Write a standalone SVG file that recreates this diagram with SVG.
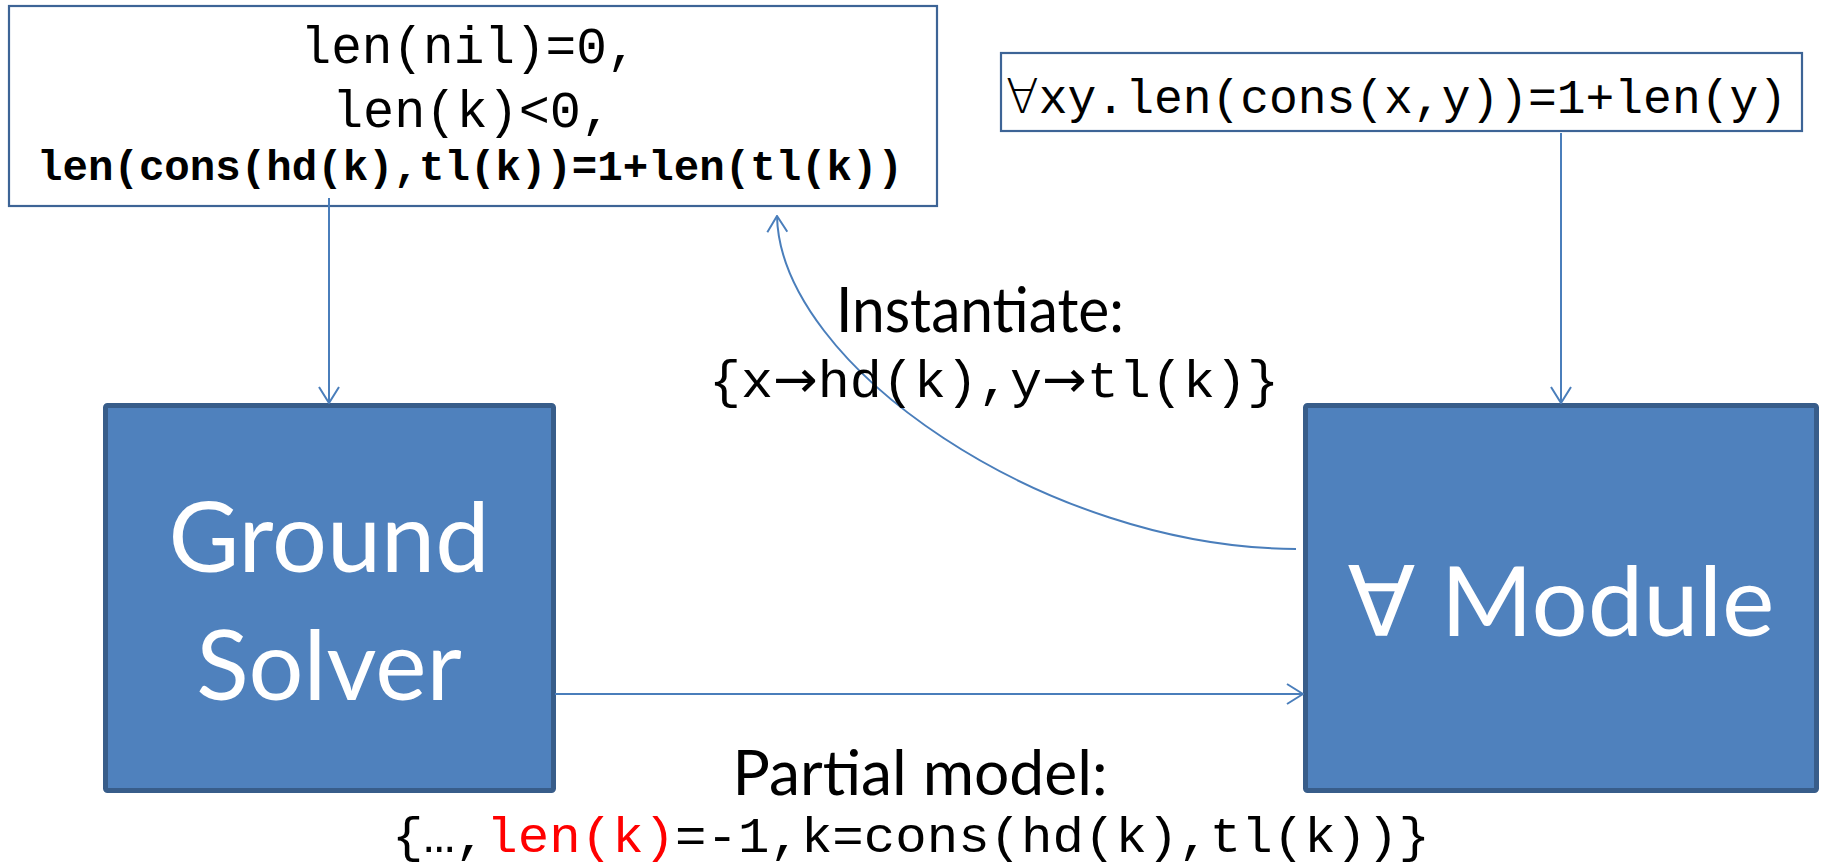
<svg xmlns="http://www.w3.org/2000/svg" width="1837" height="868" viewBox="0 0 1837 868">
<style>
.note{fill:#ffffff;stroke:#3D6496;stroke-width:2.2}
.blk{fill:#4F81BD;stroke:#385D8A;stroke-width:5}
.mono{font-family:"Liberation Mono","Courier New",monospace;fill:#000}
.cal{font-family:Lato,"Open Sans","DejaVu Sans",sans-serif}
.wt{fill:#ffffff}
.sym{font-family:"DejaVu Sans",sans-serif}
.conn{fill:none;stroke:#4A7EBB;stroke-width:2}
</style>
<defs>
<marker id="arr" viewBox="0 0 18 22" refX="17" refY="11" markerWidth="18" markerHeight="22" markerUnits="userSpaceOnUse" orient="auto">
<path d="M1,1 L17,11 L1,21" fill="none" stroke="#4A7EBB" stroke-width="2"/>
</marker>
</defs>
<g id="axioms-ground">
<rect class="note" x="9" y="6" width="928" height="200"/>
<text class="mono" x="469" y="63" font-size="51" text-anchor="middle" textLength="337" lengthAdjust="spacingAndGlyphs">len(nil)=0,</text>
<text class="mono" x="472" y="127" font-size="51" text-anchor="middle" textLength="280" lengthAdjust="spacingAndGlyphs">len(k)&lt;0,</text>
<text class="mono" x="470" y="180" font-size="42.5" font-weight="bold" text-anchor="middle" textLength="866" lengthAdjust="spacingAndGlyphs">len(cons(hd(k),tl(k))=1+len(tl(k))</text>
</g>
<g id="axiom-quant">
<rect class="note" x="1001" y="53" width="801" height="78"/>
<text class="mono" x="1006" y="113" font-size="48" textLength="781" lengthAdjust="spacingAndGlyphs"><tspan class="sym" font-weight="200">∀</tspan>xy.len(cons(x,y))=1+len(y)</text>
</g>
<g id="ground-solver">
<rect class="blk" x="105.5" y="405.5" width="448" height="385" rx="2"/>
<text class="cal wt" x="329" y="572" font-size="97" text-anchor="middle">Ground</text>
<text class="cal wt" x="329" y="700" font-size="97" text-anchor="middle">Solver</text>
</g>
<g id="forall-module">
<rect class="blk" x="1305.5" y="405.5" width="511" height="385" rx="2"/>
<text class="cal wt" x="1561" y="636" font-size="97" text-anchor="middle" textLength="427" lengthAdjust="spacingAndGlyphs">∀ Module</text>
</g>
<g id="connectors">
<path class="conn" d="M329,198 L329,403" marker-end="url(#arr)"/>
<path class="conn" d="M1561,133 L1561,403" marker-end="url(#arr)"/>
<path class="conn" d="M555,694 L1303,694" marker-end="url(#arr)"/>
<path class="conn" d="M1296,549 C1045,548 780,365 777,216" marker-end="url(#arr)"/>
</g>
<g id="labels">
<text class="cal" x="980" y="332" font-size="62" text-anchor="middle" textLength="288" lengthAdjust="spacingAndGlyphs">Instantiate:</text>
<text class="mono" x="709" y="397" font-size="52" textLength="570" lengthAdjust="spacingAndGlyphs">{x<tspan class="sym">→</tspan>hd(k),y<tspan class="sym">→</tspan>tl(k)}</text>
<text class="cal" x="920" y="795" font-size="62" text-anchor="middle" textLength="375" lengthAdjust="spacingAndGlyphs">Partial model:</text>
<text class="mono" x="392" y="852" font-size="50" textLength="1038" lengthAdjust="spacingAndGlyphs">{…,<tspan fill="#FF0000">len(k)</tspan>=-1,k=cons(hd(k),tl(k))}</text>
</g>
</svg>
